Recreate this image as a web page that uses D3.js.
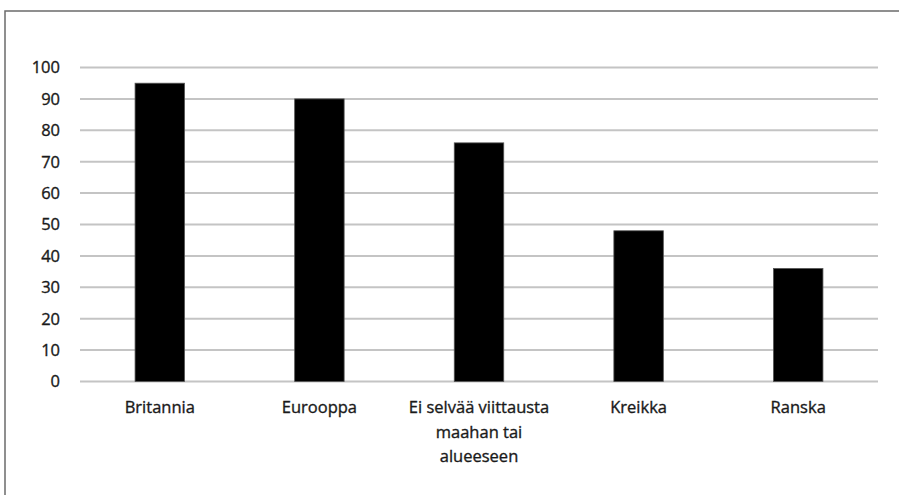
<!DOCTYPE html>
<html>
<head>
<meta charset="utf-8">
<script src="https://d3js.org/d3.v7.min.js"></script>
<style>
  body { margin: 0; background: #ffffff; }
  text { font-family: "Open Sans", sans-serif; fill: #1a1a1a; stroke: #1a1a1a; stroke-width: 0.35px; }
</style>
</head>
<body>
<script>
// data
var categories = [
  ["Britannia"],
  ["Eurooppa"],
  ["Ei selvää viittausta", "maahan tai", "alueeseen"],
  ["Kreikka"],
  ["Ranska"]
];
var values = [95, 90, 76, 48, 36];
var yTicks = [0, 10, 20, 30, 40, 50, 60, 70, 80, 90, 100];

var w = 899, h = 495;
var plotLeft = 80, plotRight = 878, plotTop = 67.5, plotBottom = 381.5;

var svg = d3.select("body").append("svg")
  .attr("width", w)
  .attr("height", h);

// outer frame
svg.append("rect")
  .attr("x", 5).attr("y", 11)
  .attr("width", 905).attr("height", 500)
  .attr("fill", "none")
  .attr("stroke", "#6b6b6b")
  .attr("stroke-width", 1.5);

var names = categories.map(function(d) { return d.join(" "); });

var x = d3.scaleBand()
  .domain(names)
  .range([plotLeft, plotRight])
  .paddingInner(0.69)
  .paddingOuter(0.345);

var y = d3.scaleLinear()
  .domain([0, 100])
  .range([plotBottom, plotTop]);

// gridlines
svg.append("g").selectAll("line")
  .data(yTicks)
  .enter().append("line")
  .attr("x1", plotLeft).attr("x2", plotRight)
  .attr("y1", function(d) { return y(d); })
  .attr("y2", function(d) { return y(d); })
  .attr("stroke", "#c4c4c4")
  .attr("stroke-width", 2);

// y labels
svg.append("g").selectAll("text")
  .data(yTicks)
  .enter().append("text")
  .attr("x", 60)
  .attr("y", function(d) { return y(d); })
  .attr("dy", "0.36em")
  .attr("text-anchor", "end")
  .style("font-size", "16.5px")
  .text(function(d) { return d; });

// bars
svg.append("g").selectAll("rect")
  .data(values)
  .enter().append("rect")
  .attr("x", function(d, i) { return x(names[i]); })
  .attr("width", x.bandwidth())
  .attr("y", function(d) { return y(d); })
  .attr("height", function(d) { return y(0) - y(d); })
  .attr("fill", "#000000")
  .attr("stroke", "#555")
  .attr("stroke-width", 0.8);

// x labels
var lab = svg.append("g").selectAll("text")
  .data(categories)
  .enter().append("text")
  .attr("text-anchor", "middle")
  .style("font-size", "16.5px")
  .attr("transform", function(d, i) {
    return "translate(" + (x(names[i]) + x.bandwidth() / 2) + ",413)";
  });

lab.selectAll("tspan")
  .data(function(d) { return d; })
  .enter().append("tspan")
  .attr("x", 0)
  .attr("y", function(d, i) { return i * 24.5; })
  .text(function(d) { return d; });
</script>
</body>
</html>
